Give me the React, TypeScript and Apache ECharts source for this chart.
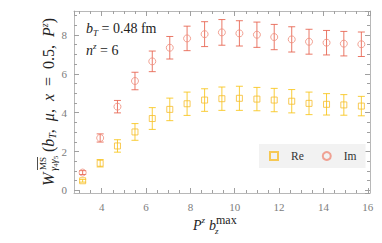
import React, { useEffect, useRef } from "react";
import * as echarts from "echarts";

// P^z b_z^max positions of the lattice data
const pzb = [3.14, 3.93, 4.71, 5.5, 6.28, 7.07, 7.85, 8.64, 9.42, 10.21, 11.0, 11.78, 12.57, 13.35, 14.14, 14.92, 15.71];
// Real part
const reVal = [0.5, 1.4, 2.29, 3.01, 3.7, 4.17, 4.46, 4.65, 4.72, 4.74, 4.7, 4.65, 4.59, 4.48, 4.43, 4.4, 4.34];
const reErr = [0.07, 0.19, 0.32, 0.43, 0.56, 0.58, 0.6, 0.58, 0.6, 0.62, 0.6, 0.6, 0.6, 0.58, 0.55, 0.53, 0.5];
// Imaginary part
const imVal = [0.92, 2.7, 4.31, 5.63, 6.64, 7.34, 7.82, 8.04, 8.13, 8.08, 8.01, 7.89, 7.77, 7.65, 7.6, 7.55, 7.52];
const imErr = [0.1, 0.21, 0.32, 0.45, 0.53, 0.58, 0.63, 0.64, 0.66, 0.65, 0.65, 0.65, 0.65, 0.64, 0.63, 0.63, 0.63];

const seriesNames = ["Re", "Im"];

const F = '"Liberation Serif", "DejaVu Serif", serif';
const RE_BAR = "rgba(248,196,24,0.85)";
const RE_MK = "#f6bd2a";
const IM_BAR = "rgba(230,96,76,0.85)";
const IM_MK = "#ef8c7b";
const AXIS = "#b8b8b8";
const TICK = "#a0a0a0";
const TXT = "#222";

function errRender(color: string) {
  return (params: any, api: any) => {
    const x = api.value(0);
    const y = api.value(1);
    const e = api.value(2);
    const top = api.coord([x, y + e]);
    const bot = api.coord([x, y - e]);
    const cw = 3.5;
    const style = { stroke: color, lineWidth: 1, fill: "none" };
    return {
      type: "group",
      children: [
        { type: "line", shape: { x1: top[0], y1: top[1], x2: bot[0], y2: bot[1] }, style },
        { type: "line", shape: { x1: top[0] - cw, y1: top[1], x2: top[0] + cw, y2: top[1] }, style },
        { type: "line", shape: { x1: bot[0] - cw, y1: bot[1], x2: bot[0] + cw, y2: bot[1] }, style },
      ],
    };
  };
}

const mainX = (position: string, labels: boolean) => ({
  type: "value",
  gridIndex: 0,
  position,
  min: 2.75,
  max: 16.1,
  splitNumber: 7,
  axisLine: { show: true, onZero: false, lineStyle: { color: AXIS, width: 1 } },
  axisTick: { show: true, inside: true, length: 5, lineStyle: { color: TICK } },
  axisLabel: {
    show: labels,
    margin: 8,
    color: "#7c7c7c",
    fontFamily: F,
    fontSize: 11,
    showMinLabel: false,
    showMaxLabel: false,
  },
  splitLine: { show: false },
});

const mainY = (position: string, labels: boolean) => ({
  type: "value",
  gridIndex: 0,
  position,
  min: -0.13,
  max: 9.23,
  splitNumber: 5,
  axisLine: { show: true, onZero: false, lineStyle: { color: AXIS, width: 1 } },
  axisTick: { show: true, inside: true, length: 5, lineStyle: { color: TICK } },
  axisLabel: {
    show: labels,
    margin: 7,
    color: "#7c7c7c",
    fontFamily: F,
    fontSize: 11,
    showMinLabel: false,
    showMaxLabel: false,
  },
  splitLine: { show: false },
});

const minorX = (position: string) => ({
  type: "value",
  gridIndex: 1,
  position,
  min: 3,
  max: 16,
  interval: 0.5,
  axisLine: { show: false },
  axisTick: { show: true, inside: true, length: 3, lineStyle: { color: TICK } },
  axisLabel: { show: false },
  splitLine: { show: false },
});

const minorY = (position: string) => ({
  type: "value",
  gridIndex: 2,
  position,
  min: 0,
  max: 9,
  interval: 0.5,
  axisLine: { show: false },
  axisTick: { show: true, inside: true, length: 3, lineStyle: { color: TICK } },
  axisLabel: { show: false },
  splitLine: { show: false },
});

const sub = (size: number) => ({ fontFamily: F, fontStyle: "italic", fontSize: size, lineHeight: 8, verticalAlign: "bottom", fill: TXT });
const sup = (size: number) => ({ fontFamily: F, fontStyle: "italic", fontSize: size, lineHeight: 8, verticalAlign: "top", fill: TXT });
const it = (size: number) => ({ fontFamily: F, fontStyle: "italic", fontSize: size, lineHeight: 18, fill: TXT });
const rm = (size: number) => ({ fontFamily: F, fontSize: size, lineHeight: 18, fill: TXT });

export default function App() {
  const ref = useRef<HTMLDivElement>(null);
  useEffect(() => {
    const chart = echarts.init(ref.current!, null, { renderer: "svg" });
    const option: any = {
      animation: false,
      backgroundColor: "#ffffff",
      grid: [
        { left: 74, right: 12, top: 11, bottom: 50 },
        { left: 79.54, right: 14.22, top: 11, bottom: 50 },
        { left: 74, right: 12, top: 15.47, bottom: 52.53 },
      ],
      xAxis: [
        mainX("bottom", true),
        mainX("top", false),
        minorX("bottom"),
        minorX("top"),
        { type: "value", gridIndex: 2, show: false, min: 0, max: 1 },
      ],
      yAxis: [
        mainY("left", true),
        mainY("right", false),
        { type: "value", gridIndex: 1, show: false, min: 0, max: 1 },
        minorY("left"),
        minorY("right"),
      ],
      legend: {
        data: seriesNames,
        left: 259,
        top: 144,
        orient: "horizontal",
        backgroundColor: "#f2f2f2",
        padding: [6, 9, 6, 10],
        itemWidth: 8,
        itemHeight: 8,
        itemGap: 18,
        formatter: (n: string) => `{g| }{t|${n}}`,
        textStyle: {
          fontFamily: F,
          fontSize: 11,
          color: "#333",
          rich: { g: { width: 8 }, t: { fontFamily: F, fontSize: 11.5, color: "#333" } },
        },
      },
      series: [
        {
          type: "custom",
          name: "Re err",
          xAxisIndex: 0,
          yAxisIndex: 0,
          renderItem: errRender(RE_BAR),
          encode: { x: 0, y: 1 },
          data: pzb.map((x, i) => [x, reVal[i], reErr[i]]),
          z: 2,
        },
        {
          type: "custom",
          name: "Im err",
          xAxisIndex: 0,
          yAxisIndex: 0,
          renderItem: errRender(IM_BAR),
          encode: { x: 0, y: 1 },
          data: pzb.map((x, i) => [x, imVal[i], imErr[i]]),
          z: 2,
        },
        {
          type: "scatter",
          name: seriesNames[0],
          xAxisIndex: 0,
          yAxisIndex: 0,
          symbol: "rect",
          symbolSize: 6,
          itemStyle: { color: "rgba(255,255,255,0)", borderColor: RE_MK, borderWidth: 1 },
          data: pzb.map((x, i) => [x, reVal[i]]),
          z: 3,
        },
        {
          type: "scatter",
          name: seriesNames[1],
          xAxisIndex: 0,
          yAxisIndex: 0,
          symbol: "circle",
          symbolSize: 7,
          itemStyle: { color: "rgba(255,255,255,0)", borderColor: IM_MK, borderWidth: 1 },
          data: pzb.map((x, i) => [x, imVal[i]]),
          z: 3,
        },
      ],
      graphic: [
        {
          type: "text",
          left: 86,
          top: 21,
          style: {
            text: "{i|b}{s|T}{n| = 0.48 fm}",
            rich: { i: it(14), s: sub(9), n: rm(14) },
          },
        },
        {
          type: "text",
          left: 86,
          top: 41,
          style: {
            text: "{i|n}{p|z}{n| = 6}",
            rich: { i: it(14), p: sup(9), n: rm(14) },
          },
        },
        // x-axis name: P^z b_z^max
        { type: "text", x: 193, y: 225, style: { text: "P", font: "italic 14px " + F, fill: TXT, verticalAlign: "middle" } },
        { type: "text", x: 201.5, y: 219.5, style: { text: "z", font: "italic 9px " + F, fill: TXT, verticalAlign: "middle" } },
        { type: "text", x: 209, y: 225, style: { text: "b", font: "italic 14px " + F, fill: TXT, verticalAlign: "middle" } },
        { type: "text", x: 215, y: 230.5, style: { text: "z", font: "italic 9px " + F, fill: TXT, verticalAlign: "middle" } },
        { type: "text", x: 216, y: 219.5, style: { text: "max", font: "12px " + F, fill: TXT, verticalAlign: "middle" } },
        // y-axis name
        {
          type: "group",
          x: 48,
          y: 186,
          rotation: Math.PI / 2,
          children: [
            { type: "text", x: 0, y: 0, style: { text: "W", font: "italic 16px " + F, fill: TXT, verticalAlign: "middle" } },
            { type: "text", x: 16, y: -5.5, style: { text: "MS", font: "9px " + F, fill: TXT, verticalAlign: "middle" } },
            { type: "line", shape: { x1: 16, y1: -10.5, x2: 29, y2: -10.5 }, style: { stroke: TXT, lineWidth: 0.8 } },
            {
              type: "text",
              x: 15,
              y: 5.5,
              style: {
                text: "{g|γ}{d|4}{g|γ}{d|5}",
                verticalAlign: "middle",
                rich: {
                  g: { fontFamily: F, fontStyle: "italic", fontSize: 10.5, lineHeight: 11, fill: TXT },
                  d: { fontFamily: F, fontSize: 7, lineHeight: 5, verticalAlign: "bottom", fill: TXT },
                },
              },
            },
            {
              type: "text",
              x: 34,
              y: 0,
              style: {
                text: "{n|(}{i|b}{s|T}{n|,  }{i|μ}{n|,  }{i|x}{n|  =  0.5,  }{i|P}{p|z}{n|)}",
                verticalAlign: "middle",
                rich: { n: rm(16), i: it(16), s: sub(10), p: sup(10) },
              },
            },
          ],
        },
      ],
    };
    chart.setOption(option);
    return () => chart.dispose();
  }, []);
  return <div ref={ref} style={{ position: "absolute", left: 0, top: 0, width: 382, height: 243 }} />;
}
